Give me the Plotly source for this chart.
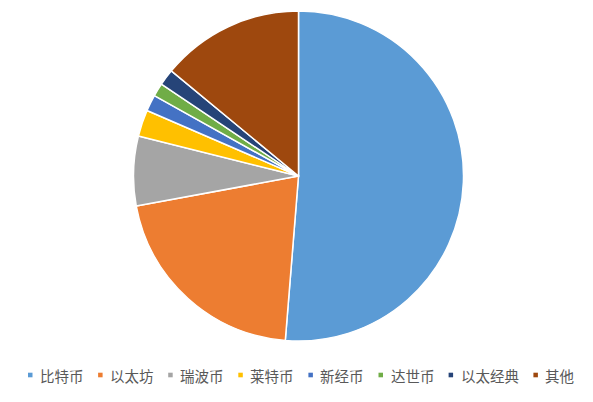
import plotly.graph_objects as go

labels = ["比特币", "以太坊", "瑞波币", "莱特币", "新经币", "达世币", "以太经典", "其他"]
shares = [51.25, 20.8, 6.8, 2.6, 1.6, 1.3, 1.6, 14.0]
colors = ["#5B9BD5", "#ED7D31", "#A5A5A5", "#FFC000", "#4472C4", "#70AD47", "#264478", "#9E480E"]

W, H = 593, 402
OFF = 8  # page body margin pushes the plot 8px right/down
cx, cy, r = 298.5 - OFF, 176 - OFF, 165

fig = go.Figure(go.Pie(
    labels=labels,
    values=shares,
    sort=False,
    direction="clockwise",
    rotation=0,
    textinfo="none",
    marker=dict(colors=colors, line=dict(color="white", width=1.5)),
    domain=dict(x=[(cx - r) / W, (cx + r) / W], y=[(H - cy - r) / H, (H - cy + r) / H]),
    showlegend=False,
))

# legend drawn by hand so it fits on one row like the original
shapes, annotations = [], []
x = 28 - OFF
leg_y = 375 - OFF
for lab, col in zip(labels, colors):
    shapes.append(dict(type="rect", xref="paper", yref="paper",
                       x0=x / W, x1=(x + 4.5) / W,
                       y0=(H - leg_y - 2.3) / H, y1=(H - leg_y + 2.3) / H,
                       fillcolor=col, line=dict(width=0)))
    annotations.append(dict(text=lab, x=(x + 10) / W, y=(H - leg_y) / H,
                            xref="paper", yref="paper", xanchor="left", yanchor="middle",
                            showarrow=False, font=dict(size=14.5, color="#595959")))
    x += len(lab) * 14.7 + 26

fig.update_layout(
    width=W, height=H, autosize=False,
    margin=dict(l=0, r=0, t=0, b=0),
    paper_bgcolor="white",
    font=dict(family="Noto Sans CJK SC, sans-serif"),
    shapes=shapes,
    annotations=annotations,
)

fig.write_html("out.html")
